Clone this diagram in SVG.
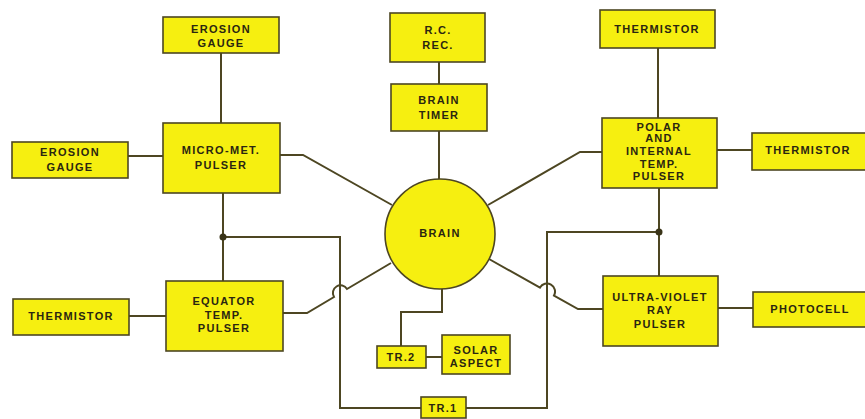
<svg xmlns="http://www.w3.org/2000/svg" width="865" height="419" viewBox="0 0 865 419">
<style>
.b{fill:#f6ef10;stroke:#4d4622;stroke-width:1.6}
.t{font-family:"Liberation Sans",Arial,sans-serif;font-weight:bold;font-size:11px;fill:#2a2610;text-anchor:middle;letter-spacing:1.3px}
.c{fill:none;stroke:#4d4622;stroke-width:2}
</style>
<rect width="865" height="419" fill="#ffffff"/>
<g id="connectors">
<path class="c" d="M221,53V123"/>
<path class="c" d="M128,156H163"/>
<path class="c" d="M280,155H303L392,205"/>
<path class="c" d="M439,62V84M439,131V179"/>
<path class="c" d="M658,48V118"/>
<path class="c" d="M717,150H752"/>
<path class="c" d="M602,152H580L488,205"/>
<path class="c" d="M223,193V281"/>
<path class="c" d="M223,237H340V408H421"/>
<path class="c" d="M129,316H166"/>
<path class="c" d="M283,313H307L334,297A7.6,7.6 0 0 1 347,289L391,263"/>
<path class="c" d="M442,289V312H401V346"/>
<path class="c" d="M426,357H442"/>
<path class="c" d="M466,408H547V232H659"/>
<path class="c" d="M659,188V276"/>
<path class="c" d="M489,259L540,287.6A8,8 0 0 1 554,295.5L578,309H603"/>
<path class="c" d="M718,308H753"/>
<circle cx="223" cy="237" r="3.5" fill="#3a3418"/>
<circle cx="659" cy="232" r="3.5" fill="#3a3418"/>
</g>
<g id="erosion-gauge-top"><rect class="b" x="163" y="17" width="116" height="36"/><text class="t" x="221" y="33">EROSION</text><text class="t" x="221" y="47">GAUGE</text></g>
<g id="erosion-gauge-left"><rect class="b" x="12" y="142" width="116" height="36"/><text class="t" x="70" y="156">EROSION</text><text class="t" x="70" y="171">GAUGE</text></g>
<g id="micro-met-pulser"><rect class="b" x="163" y="123" width="117" height="70"/><text class="t" x="221" y="154">MICRO-MET.</text><text class="t" x="221" y="169">PULSER</text></g>
<g id="rc-rec"><rect class="b" x="390" y="13" width="95" height="49"/><text class="t" x="438" y="34">R.C.</text><text class="t" x="438" y="49">REC.</text></g>
<g id="brain-timer"><rect class="b" x="391" y="84" width="96" height="47"/><text class="t" x="439" y="104">BRAIN</text><text class="t" x="439" y="119">TIMER</text></g>
<g id="thermistor-top"><rect class="b" x="600" y="10" width="115" height="38"/><text class="t" x="657" y="33">THERMISTOR</text></g>
<g id="polar-pulser"><rect class="b" x="602" y="118" width="115" height="70"/><text class="t" x="659" y="131">POLAR</text><text class="t" x="659" y="142">AND</text><text class="t" x="659" y="155">INTERNAL</text><text class="t" x="659" y="168">TEMP.</text><text class="t" x="659" y="180">PULSER</text></g>
<g id="thermistor-right"><rect class="b" x="752" y="133" width="116" height="37"/><text class="t" x="808" y="154">THERMISTOR</text></g>
<g id="brain"><circle class="b" cx="440" cy="234" r="55"/><text class="t" x="440" y="237">BRAIN</text></g>
<g id="thermistor-left"><rect class="b" x="13" y="299" width="116" height="36"/><text class="t" x="71" y="320">THERMISTOR</text></g>
<g id="equator-pulser"><rect class="b" x="166" y="281" width="117" height="70"/><text class="t" x="224" y="305">EQUATOR</text><text class="t" x="224" y="319">TEMP.</text><text class="t" x="224" y="332">PULSER</text></g>
<g id="tr2"><rect class="b" x="377" y="346" width="49" height="22"/><text class="t" x="401" y="361">TR.2</text></g>
<g id="solar-aspect"><rect class="b" x="442" y="335" width="68" height="39"/><text class="t" x="476" y="354">SOLAR</text><text class="t" x="476" y="367">ASPECT</text></g>
<g id="tr1"><rect class="b" x="421" y="397" width="45" height="21"/><text class="t" x="443" y="412">TR.1</text></g>
<g id="uv-pulser"><rect class="b" x="603" y="276" width="115" height="70"/><text class="t" x="660" y="301">ULTRA-VIOLET</text><text class="t" x="660" y="314">RAY</text><text class="t" x="660" y="328">PULSER</text></g>
<g id="photocell"><rect class="b" x="753" y="292" width="115" height="35"/><text class="t" x="810" y="313">PHOTOCELL</text></g>
</svg>
